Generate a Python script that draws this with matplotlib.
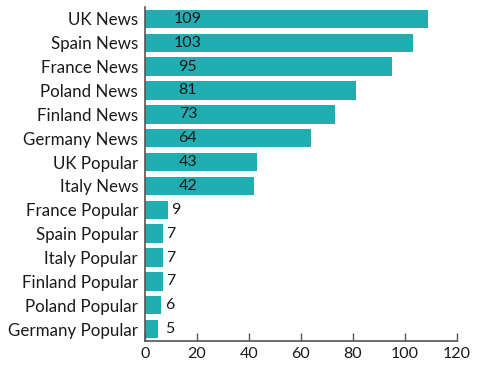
import matplotlib.pyplot as plt

categories = ["UK News", "Spain News", "France News", "Poland News", "Finland News",
              "Germany News", "UK Popular", "Italy News", "France Popular", "Spain Popular",
              "Italy Popular", "Finland Popular", "Poland Popular", "Germany Popular"]
values = [109, 103, 95, 81, 73, 64, 43, 42, 9, 7, 7, 7, 6, 5]
xticks = [0, 20, 40, 60, 80, 100, 120]

plt.rcParams["font.family"] = ["Lato", "DejaVu Sans"]
fig = plt.figure(figsize=(4.85, 3.68), dpi=100)
ax = fig.add_axes([145 / 485, 1 - 341 / 368, 312 / 485, 334 / 368])

teal = "#20aeb3"
ypos = list(range(len(categories)))
ax.barh(ypos, values, height=0.77, color=teal)

# value labels: inside near the start for long bars, after the end for short ones
for y, v in zip(ypos, values):
    if v >= 40:
        ax.text(16.5, y, str(v), ha="center", va="center", fontsize=11.5, color="#1a1a1a")
    else:
        ax.text(max(v + 1.2, 7.6), y, str(v), ha="left", va="center", fontsize=11.5, color="#1a1a1a")

ax.set_ylim(len(categories) - 0.5, -0.5)
ax.set_xlim(0, 120)
ax.set_yticks(ypos)
ax.set_yticklabels(categories, fontsize=12.2, color="#1a1a1a")
ax.set_xticks(xticks)
ax.set_xticklabels([str(t) for t in xticks], fontsize=11.5, color="#1a1a1a")

ax.tick_params(axis="y", length=0, pad=5)
ax.tick_params(axis="x", direction="in", length=6, width=1, color="#555555", pad=4)
for s in ["top", "right"]:
    ax.spines[s].set_visible(False)
for s in ["left", "bottom"]:
    ax.spines[s].set_color("#555555")
    ax.spines[s].set_linewidth(1.2)

plt.savefig("out.png", dpi=100)
